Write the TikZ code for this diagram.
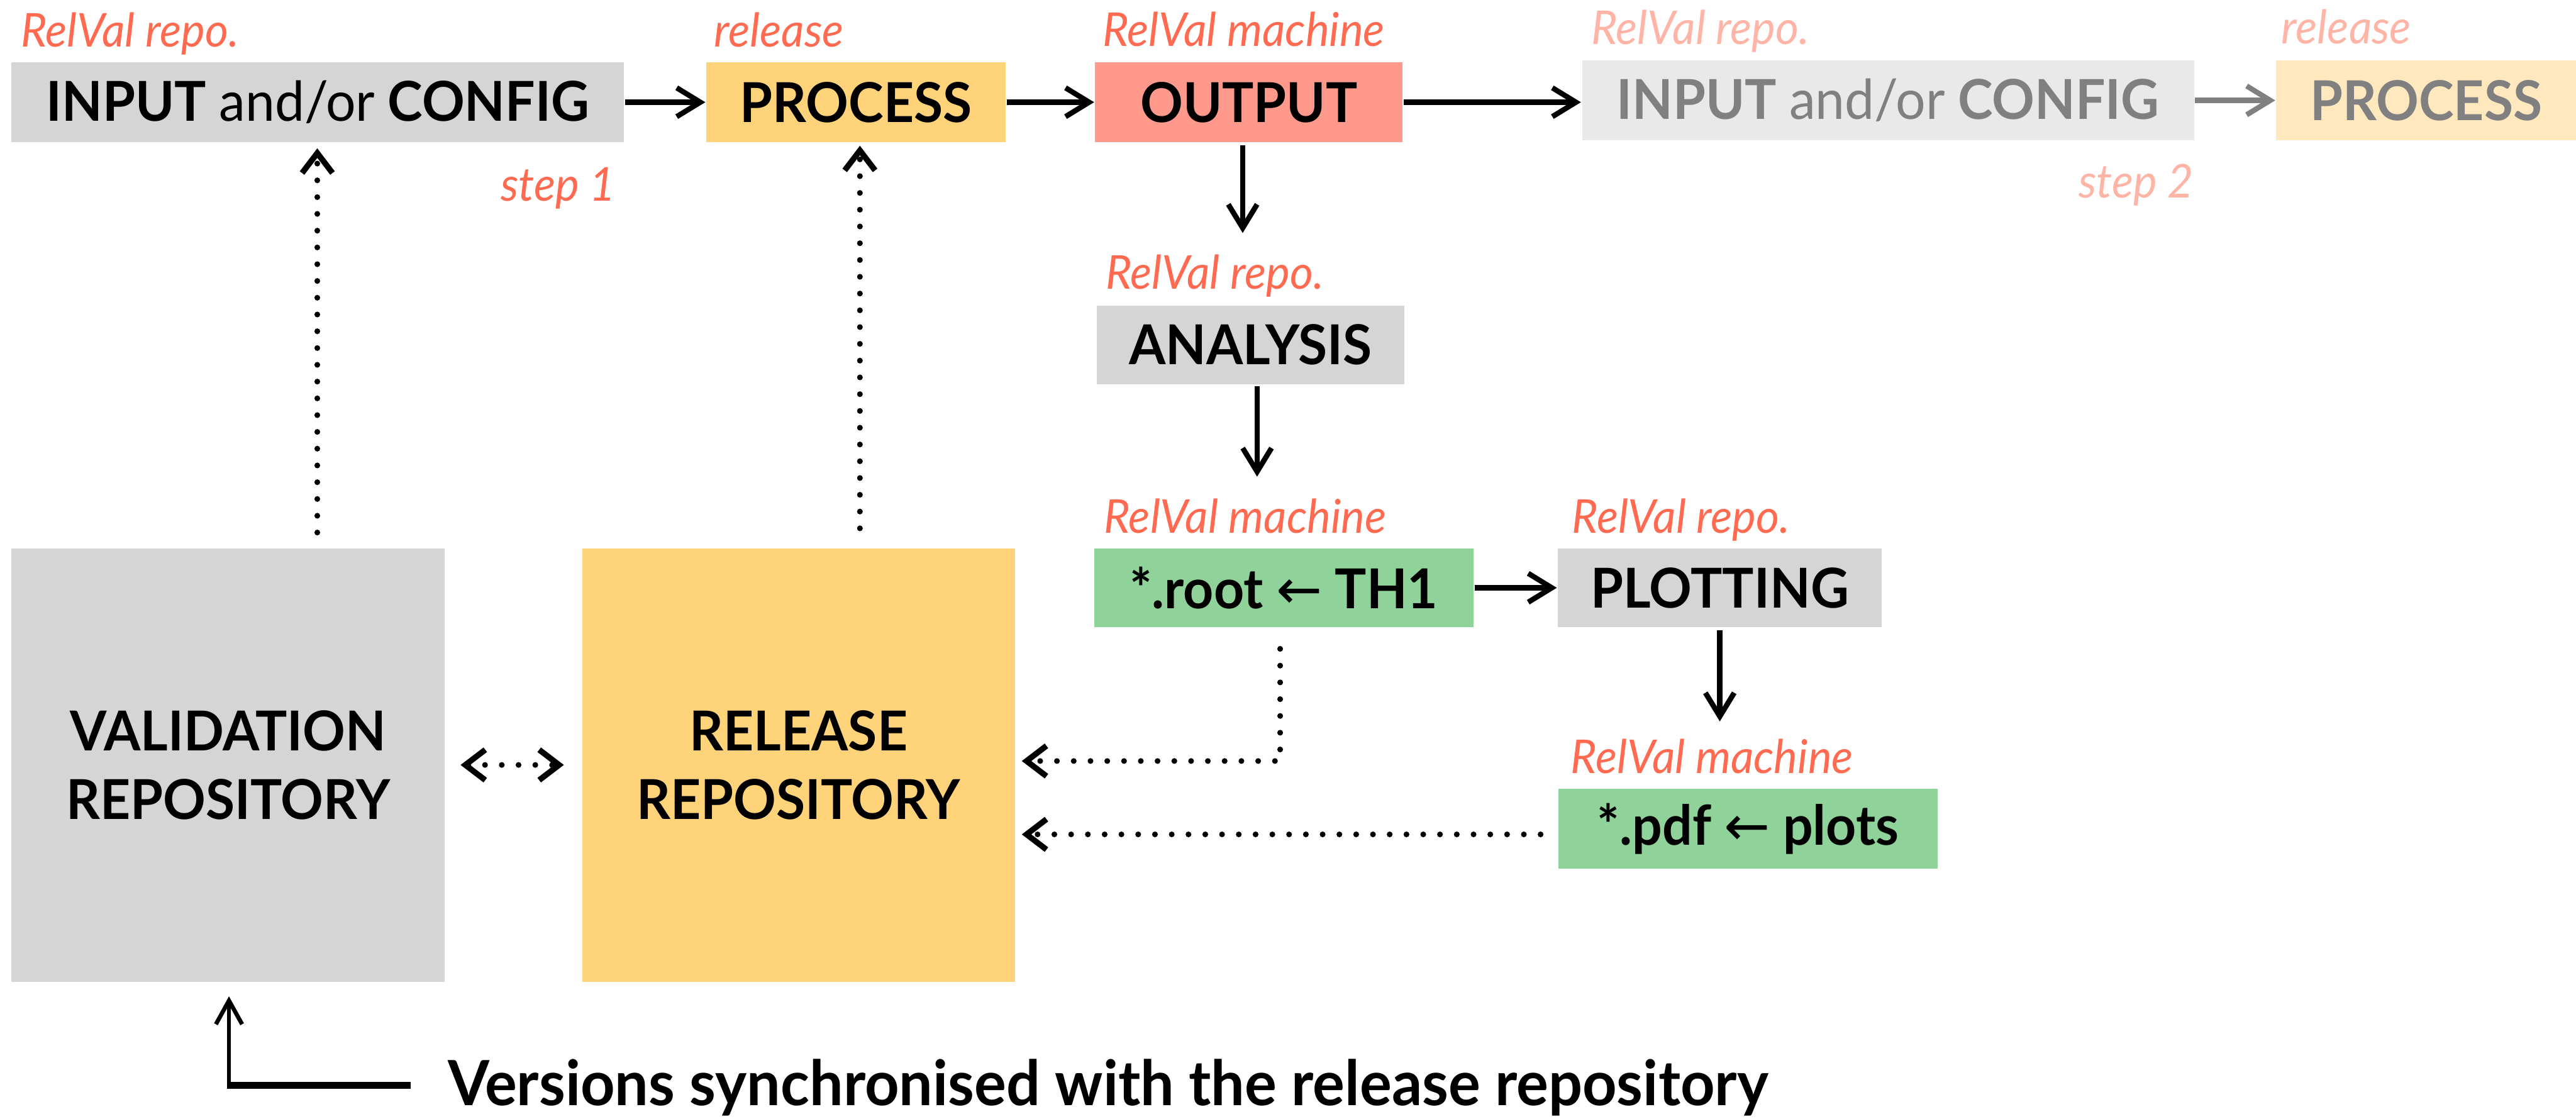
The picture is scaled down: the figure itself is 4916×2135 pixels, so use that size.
\documentclass[tikz,border=0pt]{standalone}
\usepackage{fontspec}
\setmainfont{Lato}[FakeStretch=0.96]
\newfontfamily\arrowfont{DejaVu Sans}
\usetikzlibrary{arrows.meta,calc}
\definecolor{boxgrey}{HTML}{D5D5D5}
\definecolor{boxyellow}{HTML}{FFD37A}
\definecolor{boxsalmon}{HTML}{FF998C}
\definecolor{boxgreen}{HTML}{8FD39A}
\definecolor{lblred}{HTML}{FF6A50}
\definecolor{fadegrey}{HTML}{E9E9E9}
\definecolor{fadeyellow}{HTML}{FFE8BD}
\definecolor{fadetext}{HTML}{808080}
\definecolor{fadelbl}{HTML}{FFB4A6}
\begin{document}
\begin{tikzpicture}[x=0.1pt,y=-0.1pt,
  box/.style={inner sep=0, minimum height=15.2pt, font=\fontsize{10.5}{13.1}\selectfont\bfseries, text=black},
  lbl/.style={inner sep=0, anchor=base west, font=\fontsize{8.9}{10}\selectfont\itshape, text=lblred},
  flow/.style={line width=1pt, -{Straight Barb[length=4.5pt,width=5.5pt]}},
  dots/.style={line width=1.1pt, dash pattern=on 0pt off 3.2pt, line cap=round, -{Straight Barb[length=3.8pt,width=5.8pt]}},
]
\useasboundingbox (0,0) rectangle (4916,2135);
% boxes
\node[box, fill=boxgrey, minimum width=116.9pt] (in1) at (606.5,195) {INPUT {\mdseries and/or} CONFIG};
\node[box, fill=boxyellow, minimum width=57.1pt] (pr1) at (1633.5,195) {PROCESS};
\node[box, fill=boxsalmon, minimum width=58.7pt] (out) at (2383.5,195) {OUTPUT};
\node[box, fill=fadegrey, text=fadetext, minimum width=116.8pt, minimum height=15.3pt] (in2) at (3603,191.5) {INPUT {\mdseries and/or} CONFIG};
\node[box, fill=fadeyellow, text=fadetext, minimum width=57.2pt, minimum height=15.3pt] (pr2) at (4630,191.5) {PROCESS};
\node[box, fill=boxgrey, minimum width=58.7pt, minimum height=15pt] (ana) at (2386.5,658) {ANALYSIS};
\node[box, fill=boxgreen, minimum width=72.4pt, minimum height=15.1pt] (th1) at (2450,1121.5) {*.root {\arrowfont\mdseries ←} TH1};
\node[box, fill=boxgrey, minimum width=61.8pt, minimum height=15.1pt] (plot) at (3282,1121.5) {PLOTTING};
\node[box, fill=boxgreen, minimum width=72.4pt, minimum height=15.2pt] (pdf) at (3336,1581) {*.pdf {\arrowfont\mdseries ←} plots};
\node[box, fill=boxgrey, minimum width=82.7pt, minimum height=82.7pt, align=center] (val) at (435.5,1459.5) {VALIDATION\\REPOSITORY};
\node[box, fill=boxyellow, minimum width=82.6pt, minimum height=82.7pt, align=center] (rel) at (1524,1459.5) {RELEASE\\REPOSITORY};
% labels
\node[lbl] (lin1) at (38,89) {RelVal repo.};
\node[lbl] (lpr1) at (1361,89) {release};
\node[lbl] (lout) at (2102,88) {RelVal machine};
\node[lbl, text=fadelbl] (lin2) at (3035,84) {RelVal repo.};
\node[lbl, text=fadelbl] (lpr2) at (4352,83) {release};
\node[lbl, anchor=base east] (s1) at (1177,383) {step 1};
\node[lbl, anchor=base east, text=fadelbl] (s2) at (4188,377) {step 2};
\node[lbl] (lana) at (2108,552) {RelVal repo.};
\node[lbl] (lth1) at (2105,1017) {RelVal machine};
\node[lbl] (lplot) at (2998,1017) {RelVal repo.};
\node[lbl] (lpdf) at (2996,1475) {RelVal machine};
\node[inner sep=0, anchor=base west, font=\fontsize{11.9}{14}\selectfont\bfseries] (note) at (853,2109) {Versions synchronised with the release repository};
% solid connectors
\draw[flow] (in1.east) -- (pr1.west);
\draw[flow] (pr1.east) -- (out.west);
\draw[flow] (out.east) -- (in2.west |- out.east);
\draw[flow, fadetext] (in2.east) -- (pr2.west);
\draw[flow] ($(out.south)+(-12,4)$) -- ($(out.south |- lana.north)+(-12,-40)$);
\draw[flow] ($(ana.south)+(12.5,2)$) -- ($(ana.south |- lth1.north)+(12.5,-40)$);
\draw[flow] (th1.east) -- (plot.west);
\draw[flow] ($(plot.south)+(0,4)$) -- ($(plot.south |- lpdf.north)+(0,-31)$);
% dotted connectors
\draw[dots] ($(th1.south)+(-7,39)$) |- ($(rel.east)+(11,-7.5)$);
\draw[dots] ($(pdf.west)+(-32,11)$) -- ($(rel.east |- pdf.west)+(11,11)$);
\draw[dots] ($(val.north)+(170,-28)$) -- ($(val.north |- in1.south)+(170,10)$);
\draw[dots] ($(rel.north)+(117,-36)$) -- ($(rel.north |- pr1.south)+(117,5)$);
\draw[dots, {Straight Barb[length=3.8pt,width=5.8pt]}-{Straight Barb[length=3.8pt,width=5.8pt]}] ($(val.east)+(28,0)$) -- ($(rel.west)+(-33,0)$);
% bottom note arrow
\coordinate (nb) at ($(val.south)+(1.5,196)$);
\draw[line width=0.8pt, -{Straight Barb[length=4.5pt,width=5pt]}] (nb) -- ($(val.south)+(1.5,26)$);
\draw[line width=1.3pt] ($(nb)+(-4,0)$) -- ($(note.base west |- nb)+(-69,0)$);
\end{tikzpicture}
\end{document}
